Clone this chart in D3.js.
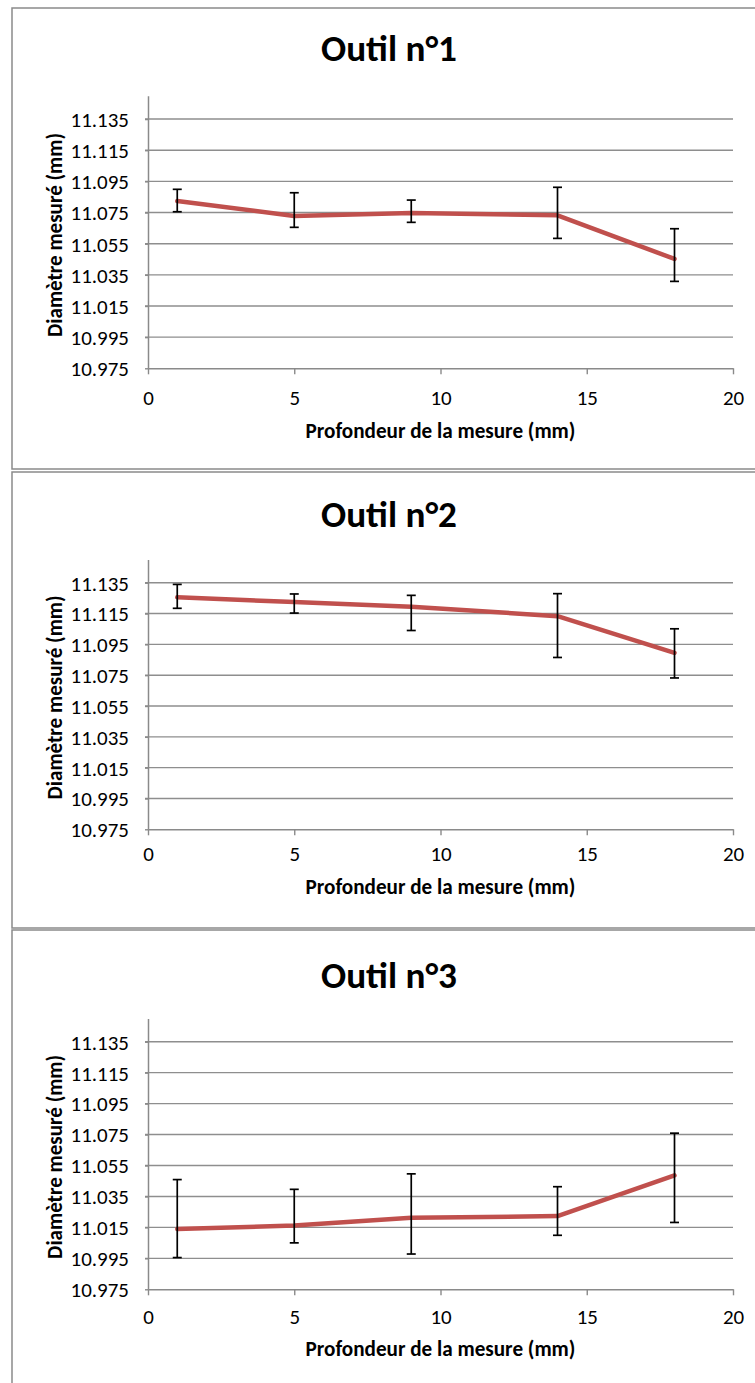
<!DOCTYPE html>
<html><head><meta charset="utf-8">
<script src="https://cdn.jsdelivr.net/npm/d3@7"></script>
<style>html,body{margin:0;padding:0;background:#fff;}svg{display:block;}</style>
</head><body>
<svg id="chart" width="755" height="1383"></svg>
<script>
// ---- data ----
const titles = ["Outil n°1", "Outil n°2", "Outil n°3"];
const depths = [1, 5, 9, 14, 18];
const mean1 = [11.0824, 11.0728, 11.0747, 11.0732, 11.0452];
const high1 = [11.0899, 11.0877, 11.0830, 11.0912, 11.0646];
const low1  = [11.0755, 11.0655, 11.0687, 11.0584, 11.0308];
const mean2 = [11.1255, 11.1225, 11.1194, 11.1133, 11.0895];
const high2 = [11.1339, 11.1277, 11.1268, 11.1279, 11.1051];
const low2  = [11.1184, 11.1153, 11.1040, 11.0865, 11.0732];
const mean3 = [11.0140, 11.0162, 11.0212, 11.0223, 11.0486];
const high3 = [11.0459, 11.0396, 11.0496, 11.0413, 11.0759];
const low3  = [10.9955, 11.0050, 10.9978, 11.0099, 11.0182];
const yTicks = [10.975, 10.995, 11.015, 11.035, 11.055, 11.075, 11.095, 11.115, 11.135];
const xTicks = [0, 5, 10, 15, 20];
const xTitle = "Profondeur de la mesure (mm)";
const yTitle = "Diamètre mesuré (mm)";
const yDomain = [10.975, 11.15];
const xDomain = [0, 20];

const series = [
  {mean: mean1, high: high1, low: low1},
  {mean: mean2, high: high2, low: low2},
  {mean: mean3, high: high3, low: low3}
];

// ---- layout ----
const panels = [
  {top: 8,   bottom: 469,  titleY: 61,  yBottom: 368.3,  yTop: 95.7,  xLabY: 405,  xTitleY: 438},
  {top: 472, bottom: 928,  titleY: 527, yBottom: 829.3,  yTop: 559.6, xLabY: 861,  xTitleY: 894},
  {top: 930, bottom: 1390, titleY: 988, yBottom: 1289.3, yTop: 1018.5, xLabY: 1324, xTitleY: 1356}
];
const xLeft = 148, xRight = 733;
const FONT = "Calibri, Carlito, Lato, sans-serif";
const gridColor = "#8e8e8e", axisColor = "#8a8a8a", lineColor = "#C0504D";

const svg = d3.select("#chart");

function fit(sel, target) {
  const w = sel.node().getComputedTextLength();
  const fs = parseFloat(sel.attr("font-size"));
  sel.attr("font-size", fs * target / w);
}

// measure tick font size
const probe = svg.append("text").attr("font-family", FONT).attr("font-size", 18).text("11.135");
fit(probe, 58.5);
const tickFs = parseFloat(probe.attr("font-size"));
probe.remove();

panels.forEach((p, i) => {
  const g = svg.append("g");
  // frame
  g.append("rect").attr("x", 12).attr("y", p.top).attr("width", 760).attr("height", p.bottom - p.top)
    .attr("fill", "#fff").attr("stroke", "#8a8a8a").attr("stroke-width", 1.5);

  const x = d3.scaleLinear().domain(xDomain).range([xLeft, xRight]);
  const y = d3.scaleLinear().domain(yDomain).range([p.yBottom, p.yTop]);

  // gridlines
  g.append("g").selectAll("line").data(yTicks.slice(1)).join("line")
    .attr("x1", xLeft - 3).attr("x2", xRight)
    .attr("y1", d => y(d)).attr("y2", d => y(d))
    .attr("stroke", gridColor).attr("stroke-width", 1.4);

  // y axis
  const ya = g.append("g").attr("transform", `translate(${xLeft},0)`)
    .call(d3.axisLeft(y).tickValues(yTicks).tickSize(3).tickSizeOuter(0).tickPadding(16).tickFormat(d3.format(".3f")));
  ya.select(".domain").attr("stroke", axisColor).attr("stroke-width", 1.5);
  ya.selectAll(".tick line").attr("stroke", axisColor).attr("stroke-width", 1.4);
  ya.selectAll("text").attr("font-family", FONT).attr("font-size", tickFs).attr("fill", "#000").attr("dy", "0.35em");

  // x axis
  const xa = g.append("g").attr("transform", `translate(0,${p.yBottom})`)
    .call(d3.axisBottom(x).tickValues(xTicks).tickSize(6).tickSizeOuter(0).tickFormat(d3.format("d")));
  xa.select(".domain").attr("stroke", axisColor).attr("stroke-width", 1.5);
  xa.selectAll(".tick line").attr("stroke", axisColor).attr("stroke-width", 1.4);
  xa.selectAll("text").attr("font-family", FONT).attr("font-size", tickFs).attr("fill", "#000")
    .attr("y", p.xLabY - p.yBottom).attr("dy", 0);

  // title
  const t = g.append("text").attr("x", 389).attr("y", p.titleY).attr("text-anchor", "middle")
    .attr("font-family", FONT).attr("font-weight", "bold").attr("font-size", 34).attr("fill", "#000").text(titles[i]);
  fit(t, 136);

  // x title
  const xt = g.append("text").attr("x", (xLeft + xRight) / 2).attr("y", p.xTitleY).attr("text-anchor", "middle")
    .attr("font-family", FONT).attr("font-weight", "bold").attr("font-size", 18).attr("fill", "#000").text(xTitle);
  fit(xt, 270);

  // y title
  const yc = (p.yTop + p.yBottom) / 2 + 3;
  const yt = g.append("text").attr("transform", `translate(62,${yc}) rotate(-90)`).attr("text-anchor", "middle")
    .attr("font-family", FONT).attr("font-weight", "bold").attr("font-size", 18).attr("fill", "#000").text(yTitle);
  fit(yt, 204);

  const s = series[i];
  const pts = depths.map((d, k) => ({x: d, m: s.mean[k], hi: s.high[k], lo: s.low[k]}));

  // line
  g.append("path").datum(pts)
    .attr("d", d3.line().x(d => x(d.x)).y(d => y(d.m)))
    .attr("fill", "none").attr("stroke", lineColor).attr("stroke-width", 4.5)
    .attr("stroke-linejoin", "round").attr("stroke-linecap", "round");

  // error bars
  const eb = g.append("g").attr("stroke", "#000").attr("stroke-width", 1.7);
  eb.selectAll("line.v").data(pts).join("line").attr("class", "v")
    .attr("x1", d => x(d.x)).attr("x2", d => x(d.x)).attr("y1", d => y(d.hi)).attr("y2", d => y(d.lo));
  eb.selectAll("line.h").data(pts).join("line").attr("class", "h")
    .attr("x1", d => x(d.x) - 4.5).attr("x2", d => x(d.x) + 4.5).attr("y1", d => y(d.hi)).attr("y2", d => y(d.hi));
  eb.selectAll("line.l").data(pts).join("line").attr("class", "l")
    .attr("x1", d => x(d.x) - 4.5).attr("x2", d => x(d.x) + 4.5).attr("y1", d => y(d.lo)).attr("y2", d => y(d.lo));
});
</script>
</body></html>
